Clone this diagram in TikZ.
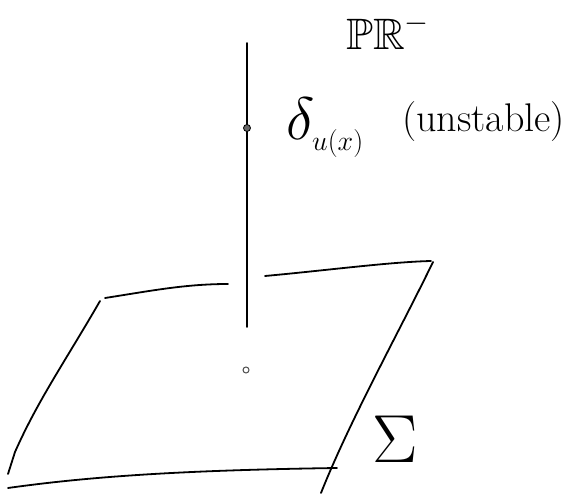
\documentclass[tikz,border=0pt]{standalone}
\usepackage{fix-cm}
\usepackage{amssymb}
\begin{document}
\begin{tikzpicture}[x=1pt,y=-1pt,
  stroke/.style={line width=1.8pt, line cap=round, line join=round},
  lbl/.style={inner sep=0pt, anchor=base west}]
\useasboundingbox (0,0) rectangle (587,497);
% vertical fibre
\coordinate (vtop) at (247,43);
\coordinate (vbot) at (247,327);
\draw[stroke] (vtop) -- (vbot);
\node[circle, draw, fill=black!60, minimum size=7pt, inner sep=0pt, line width=0.8pt] (deltapt) at (247,128) {};
\node[circle, draw=black!70, minimum size=6pt, inner sep=0pt, line width=1pt] (basept) at (246,370) {};
% plane Sigma
\coordinate (tla) at (105,298);
\coordinate (tlb) at (228,284);
\coordinate (tra) at (265,276);
\coordinate (trb) at (431,261);
\coordinate (rea) at (433,262);
\coordinate (reb) at (321,493);
\coordinate (lea) at (100,301);
\coordinate (leb) at (15,452);
\coordinate (lec) at (8,474);
\coordinate (boa) at (8,488);
\coordinate (bob) at (337,468);
\draw[stroke] (tla) .. controls (150,291) and (185,284) .. (tlb);
\draw[stroke] (tra) .. controls (330,270) and (390,262) .. (trb);
\draw[stroke] (rea) .. controls (400,330) and (350,420) .. (reb);
\draw[stroke] (lea) .. controls (66,360) and (38,400) .. (leb) -- (lec);
\draw[stroke] (boa) .. controls (100,475) and (200,470) .. (bob);
% labels
\node[lbl] (space) at (346,50) {\fontsize{44}{44}\selectfont$\mathbb{PR}^{-}$};
\node[lbl] (delta) at (286,140) {\fontsize{60}{60}\selectfont$\delta_{\raisebox{-2pt}{\fontsize{28}{28}\selectfont$u(x)$}}$};
\node[lbl] (unstable) at (402,132) {\fontsize{40}{40}\selectfont (unstable)};
\node[lbl] (sigma) at (372,462) {\fontsize{68}{68}\selectfont$\Sigma$};
\end{tikzpicture}
\end{document}
